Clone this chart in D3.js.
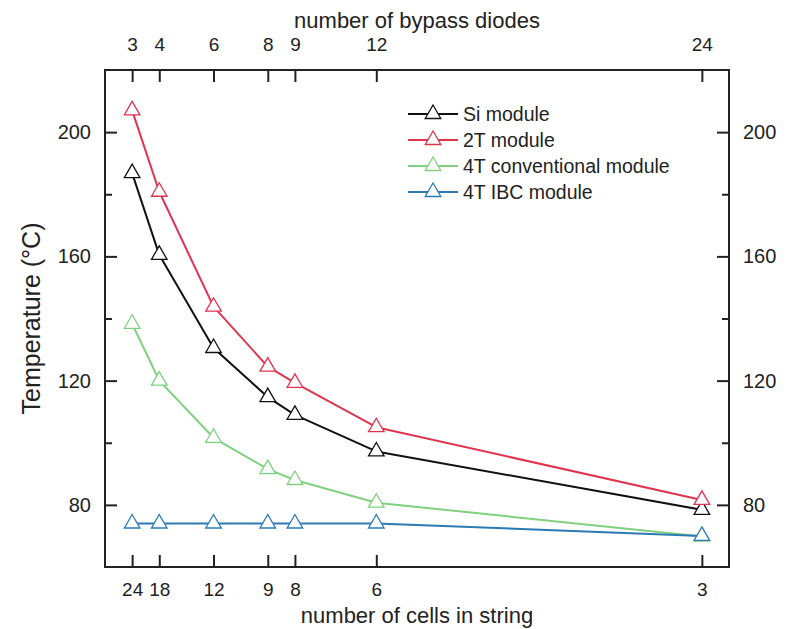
<!DOCTYPE html>
<html>
<head>
<meta charset="utf-8">
<script src="https://cdn.jsdelivr.net/npm/d3@7"></script>
<style>
  html, body { margin: 0; padding: 0; background: #fff; }
  svg { display: block; font-family: "Liberation Sans", Arial, sans-serif; }
</style>
</head>
<body>
<svg id="chart" width="792" height="629"></svg>
<script>
// ---- data ----
const bypassDiodes = [3, 4, 6, 8, 9, 12, 24];
const cellsInString = [24, 18, 12, 9, 8, 6, 3];
const siModule = [186.8, 160.5, 130.5, 114.7, 109.0, 97.2, 78.4];
const twoTModule = [207.0, 180.8, 143.8, 124.5, 119.3, 105.0, 81.6];
const fourTConventional = [138.3, 120.0, 101.6, 91.5, 88.0, 80.7, 69.8];
const fourTIBC = [74.0, 74.0, 74.0, 74.0, 74.0, 74.0, 70.0];
const seriesNames = ["Si module", "2T module", "4T conventional module", "4T IBC module"];
const yMajorTicks = [80, 120, 160, 200];
const yMinorTicks = [100, 140, 180];

const seriesValues = [siModule, twoTModule, fourTConventional, fourTIBC];
const colors = ["#111111", "#e0334f", "#7fd07f", "#2c7ab4"];

const svg = d3.select("#chart");
const L = 105, R = 729, T = 70, B = 567;
const x = d3.scaleLinear().domain([2, 25]).range([L, R]);
const y = d3.scaleLinear().domain([60, 220]).range([B, T]);
const axisColor = "#222";

// axes
function styleAxis(g, fs) {
  g.select(".domain").remove();
  g.selectAll(".tick line").attr("stroke", axisColor).attr("stroke-width", 2);
  g.selectAll(".tick text").attr("fill", "#222").attr("font-size", fs);
}
svg.append("g").attr("transform", `translate(0,${B})`)
  .call(d3.axisBottom(x).tickValues(bypassDiodes)
    .tickFormat((d, i) => cellsInString[i]).tickSizeInner(-12).tickSizeOuter(0).tickPadding(16))
  .call(g => styleAxis(g, 19));
svg.append("g").attr("transform", `translate(0,${T})`)
  .call(d3.axisTop(x).tickValues(bypassDiodes)
    .tickFormat(d => d).tickSizeInner(-12).tickSizeOuter(0).tickPadding(19))
  .call(g => styleAxis(g, 19));
svg.append("g").attr("transform", `translate(${L},0)`)
  .call(d3.axisLeft(y).tickValues(yMajorTicks).tickSizeInner(-12).tickSizeOuter(0).tickPadding(14))
  .call(g => styleAxis(g, 20));
svg.append("g").attr("transform", `translate(${R},0)`)
  .call(d3.axisRight(y).tickValues(yMajorTicks).tickSizeInner(-12).tickSizeOuter(0).tickPadding(14))
  .call(g => styleAxis(g, 20));
svg.append("g").attr("transform", `translate(${L},0)`)
  .call(d3.axisLeft(y).tickValues(yMinorTicks).tickSizeInner(-7).tickSizeOuter(0).tickFormat(""))
  .call(g => styleAxis(g, 20));
svg.append("g").attr("transform", `translate(${R},0)`)
  .call(d3.axisRight(y).tickValues(yMinorTicks).tickSizeInner(-7).tickSizeOuter(0).tickFormat(""))
  .call(g => styleAxis(g, 20));

// frame
svg.append("rect").attr("x", L).attr("y", T).attr("width", R - L).attr("height", B - T)
  .attr("fill", "none").attr("stroke", axisColor).attr("stroke-width", 2);

// axis titles
svg.append("text").attr("x", (L + R) / 2).attr("y", 28).attr("text-anchor", "middle")
  .attr("font-size", 22).attr("fill", "#222").text("number of bypass diodes");
svg.append("text").attr("x", (L + R) / 2).attr("y", 623).attr("text-anchor", "middle")
  .attr("font-size", 22).attr("fill", "#222").text("number of cells in string");
svg.append("text").attr("transform", `translate(40,${(T + B) / 2}) rotate(-90)`)
  .attr("text-anchor", "middle").attr("font-size", 25).attr("fill", "#222").text("Temperature (°C)");

// lines + markers
const line = d3.line().x(d => x(d[0])).y(d => y(d[1]));
const tri = d3.symbol().type(d3.symbolTriangle).size(105);
seriesValues.forEach((vals, si) => {
  const pts = bypassDiodes.map((d, i) => [d, vals[i]]);
  svg.append("path").datum(pts).attr("d", line).attr("fill", "none")
    .attr("stroke", colors[si]).attr("stroke-width", 2).attr("stroke-linejoin", "round");
});
seriesValues.forEach((vals, si) => {
  const pts = bypassDiodes.map((d, i) => [d, vals[i]]);
  svg.append("g").selectAll("path").data(pts).join("path")
    .attr("d", tri).attr("transform", d => `translate(${x(d[0])},${y(d[1])})`)
    .attr("fill", "#fff").attr("stroke", colors[si]).attr("stroke-width", 1.3);
});

// legend
const legY0 = 114, legDy = 26;
seriesNames.forEach((name, i) => {
  const yy = legY0 + i * legDy;
  svg.append("line").attr("x1", 408).attr("x2", 458).attr("y1", yy).attr("y2", yy)
    .attr("stroke", colors[i]).attr("stroke-width", 2);
  svg.append("path").attr("d", tri).attr("transform", `translate(433,${yy})`)
    .attr("fill", "#fff").attr("stroke", colors[i]).attr("stroke-width", 1.3);
  svg.append("text").attr("x", 463).attr("y", yy).attr("dy", "0.35em")
    .attr("font-size", 19.5).attr("fill", "#222").text(name);
});
</script>
</body>
</html>
